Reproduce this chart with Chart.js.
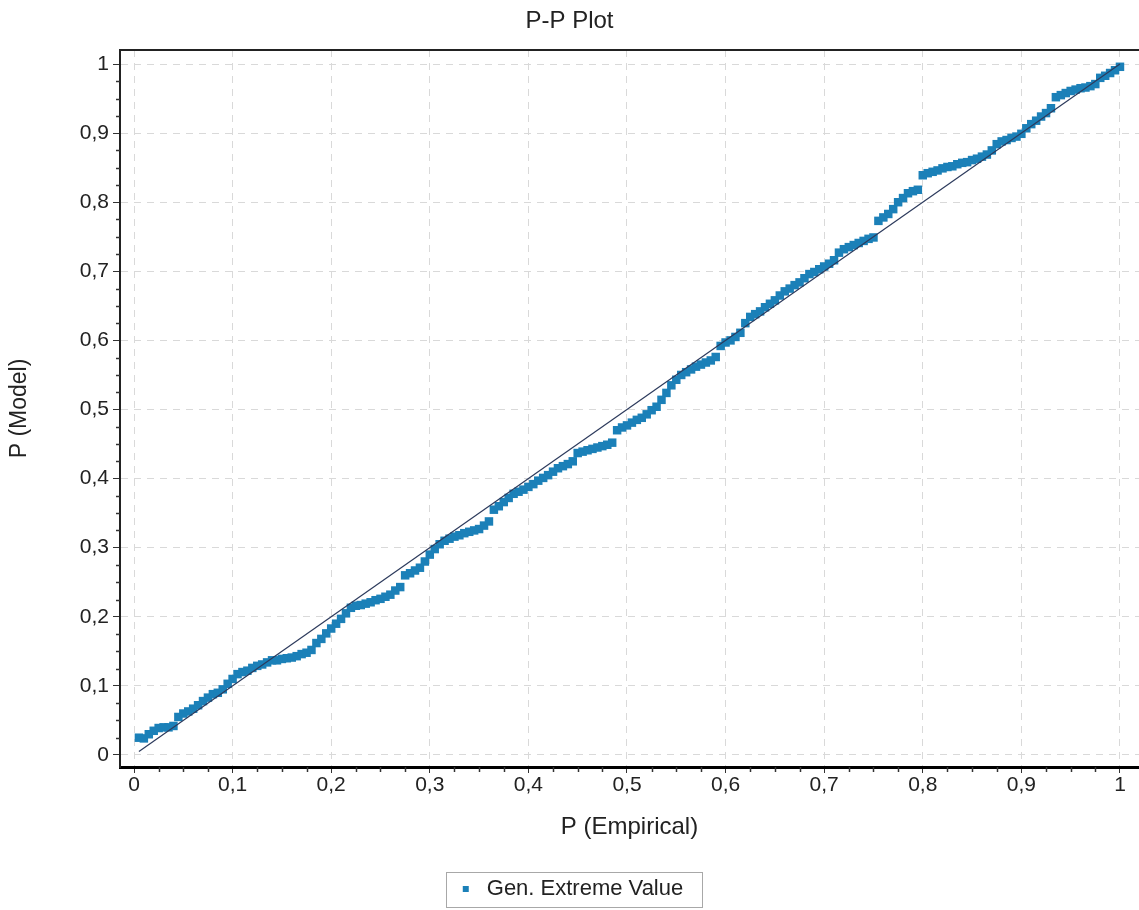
<!DOCTYPE html>
<html>
<head>
<meta charset="utf-8">
<title>P-P Plot</title>
<script src="https://cdn.jsdelivr.net/npm/chart.js@4.4.1/dist/chart.umd.min.js"></script>
<style>
    html, body { margin: 0; padding: 0; background: #fff; overflow: hidden; }
    canvas { display: block; }
</style>
</head>
<body>
<canvas id="ppChart" width="1139" height="910"></canvas>
<script>
// P (Empirical) - x values of the plotted points
var empirical = [
    0.005, 0.01, 0.015, 0.02, 0.025, 0.03, 0.035, 0.04, 0.045, 0.05,
    0.055, 0.06, 0.065, 0.07, 0.075, 0.08, 0.085, 0.09, 0.095, 0.1,
    0.105, 0.11, 0.115, 0.12, 0.125, 0.13, 0.135, 0.14, 0.145, 0.15,
    0.155, 0.16, 0.165, 0.17, 0.175, 0.18, 0.185, 0.19, 0.195, 0.2,
    0.205, 0.21, 0.215, 0.22, 0.225, 0.23, 0.235, 0.24, 0.245, 0.25,
    0.255, 0.26, 0.265, 0.27, 0.275, 0.28, 0.285, 0.29, 0.295, 0.3,
    0.305, 0.31, 0.315, 0.32, 0.325, 0.33, 0.335, 0.34, 0.345, 0.35,
    0.355, 0.36, 0.365, 0.37, 0.375, 0.38, 0.385, 0.39, 0.395, 0.4,
    0.405, 0.41, 0.415, 0.42, 0.425, 0.43, 0.435, 0.44, 0.445, 0.45,
    0.455, 0.46, 0.465, 0.47, 0.475, 0.48, 0.485, 0.49, 0.495, 0.5,
    0.505, 0.51, 0.515, 0.52, 0.525, 0.53, 0.535, 0.54, 0.545, 0.55,
    0.555, 0.56, 0.565, 0.57, 0.575, 0.58, 0.585, 0.59, 0.595, 0.6,
    0.605, 0.61, 0.615, 0.62, 0.625, 0.63, 0.635, 0.64, 0.645, 0.65,
    0.655, 0.66, 0.665, 0.67, 0.675, 0.68, 0.685, 0.69, 0.695, 0.7,
    0.705, 0.71, 0.715, 0.72, 0.725, 0.73, 0.735, 0.74, 0.745, 0.75,
    0.755, 0.76, 0.765, 0.77, 0.775, 0.78, 0.785, 0.79, 0.795, 0.8,
    0.805, 0.81, 0.815, 0.82, 0.825, 0.83, 0.835, 0.84, 0.845, 0.85,
    0.855, 0.86, 0.865, 0.87, 0.875, 0.88, 0.885, 0.89, 0.895, 0.9,
    0.905, 0.91, 0.915, 0.92, 0.925, 0.93, 0.935, 0.94, 0.945, 0.95,
    0.955, 0.96, 0.965, 0.97, 0.975, 0.98, 0.985, 0.99, 0.995, 1
];

// P (Model)
var model = [
    0.025, 0.024, 0.03, 0.035, 0.039, 0.04, 0.04, 0.042, 0.055, 0.06,
    0.063, 0.067, 0.072, 0.078, 0.083, 0.088, 0.09, 0.095, 0.103, 0.11,
    0.117, 0.12, 0.122, 0.126, 0.129, 0.131, 0.134, 0.137, 0.137, 0.139,
    0.14, 0.141, 0.143, 0.146, 0.148, 0.152, 0.162, 0.168, 0.176, 0.183,
    0.19, 0.197, 0.205, 0.213, 0.216, 0.217, 0.219, 0.221, 0.224, 0.226,
    0.229, 0.232, 0.238, 0.243, 0.26, 0.263, 0.267, 0.271, 0.28, 0.29,
    0.298, 0.305, 0.31, 0.313, 0.316, 0.318, 0.321, 0.323, 0.325, 0.327,
    0.332, 0.338, 0.355, 0.36, 0.366, 0.372, 0.378, 0.381, 0.384, 0.388,
    0.392, 0.397, 0.401, 0.405, 0.41, 0.415, 0.418, 0.421, 0.425, 0.437,
    0.439, 0.441, 0.443, 0.445, 0.447, 0.449, 0.452, 0.47, 0.474, 0.477,
    0.481, 0.485, 0.488, 0.493, 0.499, 0.504, 0.514, 0.524, 0.535, 0.543,
    0.55, 0.554, 0.558, 0.562, 0.565, 0.568, 0.571, 0.576, 0.592, 0.597,
    0.6, 0.605, 0.611, 0.625, 0.634, 0.638, 0.642, 0.648, 0.653, 0.658,
    0.665, 0.671, 0.675, 0.68, 0.684, 0.69, 0.696, 0.699, 0.703, 0.707,
    0.711, 0.716, 0.727, 0.732, 0.735, 0.738, 0.741, 0.744, 0.747, 0.749,
    0.773, 0.778, 0.783, 0.79, 0.8, 0.806, 0.813, 0.816, 0.818, 0.839,
    0.842, 0.844, 0.846, 0.849, 0.851, 0.852, 0.855, 0.857, 0.858, 0.861,
    0.863, 0.866, 0.869, 0.875, 0.884, 0.888, 0.89, 0.893, 0.895, 0.899,
    0.907, 0.913, 0.918, 0.924, 0.929, 0.936, 0.952, 0.955, 0.958, 0.961,
    0.963, 0.965, 0.966, 0.968, 0.971, 0.98, 0.983, 0.987, 0.991, 0.996
];

// reference diagonal
var diagX = [0.005, 1];
var diagY = [0.005, 1];

var tickValues = [0, 0.1, 0.2, 0.3, 0.4, 0.5, 0.6, 0.7, 0.8, 0.9, 1];

var fontFamily = "'Liberation Sans', Arial, sans-serif";

function toPoints(xs, ys) {
    return xs.map(function (x, i) { return { x: x, y: ys[i] }; });
}

function fixedTicks(scale) {
    scale.ticks = tickValues.map(function (v) { return { value: v }; });
}

function commaLabel(v) {
    return String(v).replace('.', ',');
}

// minor ticks, top frame line and the box round the legend
var framePlugin = {
    id: 'framePlugin',
    afterDraw: function (chart) {
        var ctx = chart.ctx;
        var area = chart.chartArea;
        var xs = chart.scales.x, ys = chart.scales.y;
        ctx.save();
        ctx.strokeStyle = '#222';
        ctx.lineWidth = 2;
        ctx.beginPath();
        ctx.moveTo(area.left - 1, area.top);
        ctx.lineTo(chart.width, area.top);
        ctx.stroke();

        ctx.lineWidth = 1.5;
        ctx.strokeStyle = '#333';
        for (var i = 0; i < tickValues.length - 1; i++) {
            for (var k = 1; k < 4; k++) {
                var v = tickValues[i] + (tickValues[i + 1] - tickValues[i]) * k / 4;
                var px = Math.round(xs.getPixelForValue(v)) + 0.5;
                ctx.beginPath();
                ctx.moveTo(px, area.bottom);
                ctx.lineTo(px, area.bottom + 5);
                ctx.stroke();
                var py = Math.round(ys.getPixelForValue(v)) + 0.5;
                ctx.beginPath();
                ctx.moveTo(area.left - 4, py);
                ctx.lineTo(area.left, py);
                ctx.stroke();
            }
        }

        var hb = chart.legend.legendHitBoxes[0];
        if (hb) {
            ctx.strokeStyle = '#a8a8a8';
            ctx.lineWidth = 1;
            ctx.strokeRect(Math.round(hb.left) - 9.5, Math.round(hb.top) - 5.5,
                Math.round(hb.width) + 29, Math.round(hb.height) + 13);
        }
        ctx.restore();
    }
};

document.addEventListener('DOMContentLoaded', function () {
    var ctx = document.getElementById('ppChart').getContext('2d');
    var ppChart = new Chart(ctx, {
        type: 'scatter',
        data: {
            datasets: [{
                label: 'Gen. Extreme Value',
                data: toPoints(empirical, model),
                backgroundColor: '#1b80b8',
                borderColor: '#1b80b8',
                borderWidth: 0,
                pointStyle: 'rect',
                pointRadius: 6,
                order: 1
            }, {
                type: 'line',
                label: 'diagonal',
                data: toPoints(diagX, diagY),
                borderColor: '#2c3a5c',
                borderWidth: 1.2,
                pointRadius: 0,
                fill: false,
                order: 0
            }]
        },
        options: {
            responsive: false,
            animation: false,
            layout: { padding: 0, autoPadding: false },
            plugins: {
                title: {
                    display: true,
                    text: 'P-P Plot',
                    color: '#222',
                    font: { family: fontFamily, size: 24, weight: 'normal' },
                    padding: { top: 7, bottom: 14.2 }
                },
                legend: {
                    position: 'bottom',
                    labels: {
                        usePointStyle: true,
                        boxWidth: 20,
                        boxHeight: 6,
                        color: '#222',
                        font: { family: fontFamily, size: 22 },
                        filter: function (item) { return item.text !== 'diagonal'; }
                    }
                },
                tooltip: { enabled: false }
            },
            scales: {
                x: {
                    type: 'linear',
                    min: -0.0142,
                    max: 1.0193,
                    afterBuildTicks: fixedTicks,
                    afterFit: function (scale) { scale.height = 101; },
                    ticks: {
                        autoSkip: false,
                        maxRotation: 0,
                        padding: 0,
                        color: '#222',
                        font: { family: fontFamily, size: 21 },
                        callback: commaLabel
                    },
                    grid: {
                        color: '#d9d9d9',
                        tickColor: '#333',
                        tickLength: 6,
                        tickBorderDash: []
                    },
                    border: { color: '#000', width: 3, dash: [7, 6] },
                    title: {
                        display: true,
                        text: 'P (Empirical)',
                        color: '#222',
                        font: { family: fontFamily, size: 24 },
                        padding: { top: 0, bottom: 26.6 }
                    }
                },
                y: {
                    type: 'linear',
                    min: -0.0174,
                    max: 1.0203,
                    afterBuildTicks: fixedTicks,
                    afterFit: function (scale) { scale.width = 120; },
                    ticks: {
                        autoSkip: false,
                        padding: 4,
                        color: '#222',
                        font: { family: fontFamily, size: 21 },
                        callback: commaLabel
                    },
                    grid: {
                        color: '#d9d9d9',
                        tickColor: '#333',
                        tickLength: 7,
                        tickBorderDash: []
                    },
                    border: { color: '#222', width: 2, dash: [7, 6] },
                    title: {
                        display: true,
                        text: 'P (Model)',
                        color: '#222',
                        font: { family: fontFamily, size: 23 },
                        padding: { top: 6, bottom: 0 }
                    }
                }
            }
        },
        plugins: [framePlugin]
    });
});
</script>
</body>
</html>
